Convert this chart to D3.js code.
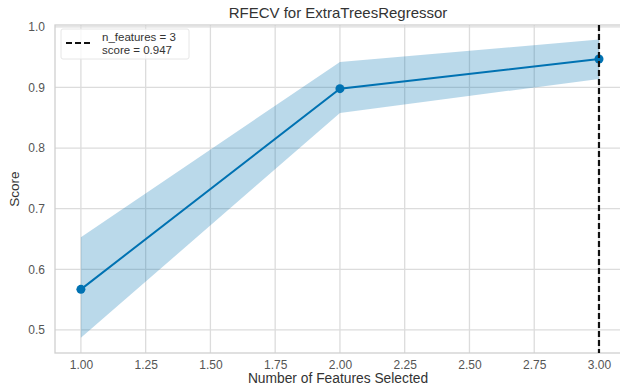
<!DOCTYPE html>
<html><head><meta charset="utf-8">
<script src="https://cdn.jsdelivr.net/npm/d3@7"></script>
<style>body{margin:0;background:#fff}svg{display:block;font-family:"Liberation Sans",Arial,sans-serif}</style>
</head><body><svg id="c" width="620" height="385"></svg>
<script>
const nFeatures = [1, 2, 3];
const meanScore = [0.567, 0.898, 0.947];
const upperScore = [0.653, 0.942, 0.979];
const lowerScore = [0.487, 0.858, 0.914];
const xTicks = [1.00, 1.25, 1.50, 1.75, 2.00, 2.25, 2.50, 2.75, 3.00];
const yTicks = [0.5, 0.6, 0.7, 0.8, 0.9, 1.0];
const bestN = 3, bestScore = 0.947;

const svg = d3.select("#c");
const L = 55, R = 621, T = 25, B = 353;
const x = d3.scaleLinear().domain([0.9, 3.085]).range([L, R]);
const y = d3.scaleLinear().domain([0.462, 1.003]).range([B, T]);

// grid
const g = svg.append("g");
g.selectAll(".gx").data(xTicks).join("line").attr("x1", d => x(d)).attr("x2", d => x(d))
  .attr("y1", T).attr("y2", B).attr("stroke", "#dcdcdc").attr("stroke-width", 1.3);
g.selectAll(".gy").data(yTicks).join("line").attr("y1", d => y(d)).attr("y2", d => y(d))
  .attr("x1", L).attr("x2", R).attr("stroke", "#dcdcdc").attr("stroke-width", 1.3);

// frame
svg.append("rect").attr("x", L).attr("y", T).attr("width", R - L).attr("height", B - T)
  .attr("fill", "none").attr("stroke", "#d0d0d0").attr("stroke-width", 1.3);

// band
const idx = d3.range(nFeatures.length);
svg.append("path").datum(idx)
  .attr("d", d3.area().x(i => x(nFeatures[i])).y0(i => y(lowerScore[i])).y1(i => y(upperScore[i])))
  .attr("fill", "#0072B2").attr("fill-opacity", 0.27);

// line
svg.append("path").datum(idx)
  .attr("d", d3.line().x(i => x(nFeatures[i])).y(i => y(meanScore[i])))
  .attr("fill", "none").attr("stroke", "#0072B2").attr("stroke-width", 2);
svg.selectAll(".pt").data(idx).join("circle")
  .attr("cx", i => x(nFeatures[i])).attr("cy", i => y(meanScore[i])).attr("r", 4.5)
  .attr("fill", "#0072B2");

// best line
svg.append("line").attr("x1", x(bestN)).attr("x2", x(bestN)).attr("y1", T).attr("y2", B)
  .attr("stroke", "#111").attr("stroke-width", 2.2).attr("stroke-dasharray", "6,3");

// axes
const xa = svg.append("g").attr("transform", `translate(0,${B})`)
  .call(d3.axisBottom(x).tickValues(xTicks).tickFormat(d3.format(".2f")).tickSize(0).tickPadding(7));
const ya = svg.append("g").attr("transform", `translate(${L},0)`)
  .call(d3.axisLeft(y).tickValues(yTicks).tickFormat(d3.format(".1f")).tickSize(0).tickPadding(10));
[xa, ya].forEach(a => {
  a.select(".domain").remove();
  a.selectAll("text").attr("fill", "#555").attr("font-size", 12).attr("font-family", "Liberation Sans, Arial, sans-serif");
});

// title and labels
svg.append("text").attr("x", (L + R) / 2).attr("y", 18).attr("text-anchor", "middle")
  .attr("font-size", 15).attr("fill", "#333").text("RFECV for ExtraTreesRegressor");
svg.append("text").attr("x", (L + R) / 2).attr("y", 383).attr("text-anchor", "middle")
  .attr("font-size", 13.8).attr("fill", "#333").text("Number of Features Selected");
svg.append("text").attr("transform", `translate(19,${(T + B) / 2}) rotate(-90)`).attr("text-anchor", "middle")
  .attr("font-size", 13.5).attr("fill", "#333").text("Score");

// legend
const lg = svg.append("g");
lg.append("rect").attr("x", 61).attr("y", 29).attr("width", 128).attr("height", 30).attr("rx", 2)
  .attr("fill", "#fff").attr("fill-opacity", 0.8).attr("stroke", "#e6e6e6");
lg.append("line").attr("x1", 66).attr("x2", 90).attr("y1", 43).attr("y2", 43)
  .attr("stroke", "#111").attr("stroke-width", 2.2).attr("stroke-dasharray", "6,3");
lg.append("text").attr("x", 102).attr("y", 40.5).attr("font-size", 11.5).attr("fill", "#333").text("n_features = " + bestN);
lg.append("text").attr("x", 102).attr("y", 54).attr("font-size", 11.5).attr("fill", "#333").text("score = " + bestScore.toFixed(3));
</script></body></html>
